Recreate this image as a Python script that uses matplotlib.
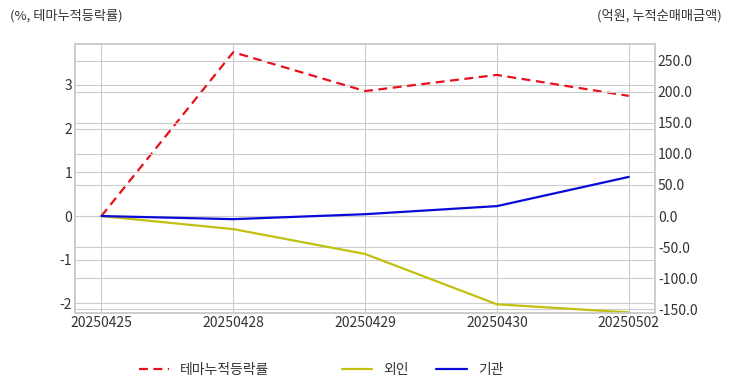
import matplotlib
matplotlib.use("Agg")
import matplotlib.pyplot as plt
from matplotlib.lines import Line2D
from matplotlib.ticker import FormatStrFormatter

plt.style.use("seaborn-v0_8-whitegrid")
plt.rcParams['font.family'] = ['Noto Sans CJK KR', 'DejaVu Sans']
plt.rcParams['axes.unicode_minus'] = False

dates = ["20250425", "20250428", "20250429", "20250430", "20250502"]
theme_cum = [0.0, 3.75, 2.86, 3.23, 2.75]      # %, 테마누적등락률
foreign_cum = [0.0, -21.0, -61.0, -142.0, -155.0]  # 억원, 외인
inst_cum = [0.0, -5.0, 3.0, 16.0, 63.0]        # 억원, 기관

txt = "#333333"
fig = plt.figure(figsize=(7.32, 3.92), dpi=100)
ax = fig.add_axes([0.1025, 0.2015, 0.7925, 0.6865])
ax2 = ax.twinx()

x = range(len(dates))
ax.plot(x, theme_cum, color="#e8101a", linestyle="--", linewidth=1.6, dashes=(4, 2.5))
ax2.plot(x, foreign_cum, color="#c0c010", linewidth=1.6)
ax2.plot(x, inst_cum, color="#0a0ad8", linewidth=1.6)

ax.set_xticks(list(x))
ax.set_xticklabels(dates)
ax.set_xlim(-0.2, 4.2)
ax.set_ylim(-2.22, 3.94)
ax.set_yticks([-2, -1, 0, 1, 2, 3])
ax2.set_ylim(-156, 277)
ax2.set_yticks([-150, -100, -50, 0, 50, 100, 150, 200, 250])
ax2.yaxis.set_major_formatter(FormatStrFormatter("%.1f"))

for a in (ax, ax2):
    a.tick_params(labelsize=10, colors=txt, pad=2, length=0)
    a.grid(True, color="#cccccc", linewidth=0.8)
    for s in a.spines.values():
        s.set_visible(True)
        s.set_color("#cccccc")
        s.set_linewidth(1.2)
ax2.grid(axis="x", visible=False)

fig.text(10 / 732, 1 - 16 / 392, "(%, 테마누적등락률)", fontsize=9.5, color=txt, ha="left", va="center")
fig.text(722 / 732, 1 - 16 / 392, "(억원, 누적순매매금액)", fontsize=9.5, color=txt, ha="right", va="center")

h1 = [Line2D([], [], color="#e8101a", linestyle="--", linewidth=1.6, dashes=(4, 2.5))]
fig.legend(h1, ["테마누적등락률"], loc="center left", bbox_to_anchor=(126 / 732, 1 - 370 / 392),
           frameon=False, fontsize=10, handlelength=2.2, labelcolor=txt)
h2 = [Line2D([], [], color="#c0c010", linewidth=1.6), Line2D([], [], color="#0a0ad8", linewidth=1.6)]
fig.legend(h2, ["외인", "기관"], loc="center left", bbox_to_anchor=(329 / 732, 1 - 370 / 392),
           frameon=False, fontsize=10, ncol=2, handlelength=2.2, columnspacing=2.0, labelcolor=txt)

fig.savefig("out.png", dpi=100)
